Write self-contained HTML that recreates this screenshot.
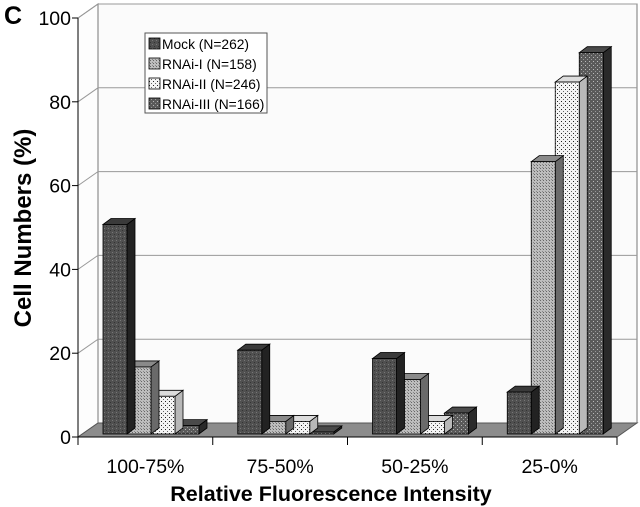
<!DOCTYPE html>
<html><head><meta charset="utf-8"><style>
body{margin:0;background:#fff;}
svg{display:block;font-family:"Liberation Sans",Arial,sans-serif;}
</style></head><body>
<svg id="chart" width="640" height="507" viewBox="0 0 640 507">
<defs>
<pattern id="pMock" width="4" height="4" patternUnits="userSpaceOnUse"><rect width="4" height="4" fill="#505050"/><rect x="0" y="0" width="1" height="1" fill="#777"/><rect x="2" y="2" width="1" height="1" fill="#333"/></pattern>
<pattern id="pR1" width="3" height="3" patternUnits="userSpaceOnUse"><rect width="3" height="3" fill="#bdbdbd"/><rect width="1" height="1" fill="#666"/><rect x="2" y="2" width="1" height="1" fill="#888"/></pattern>
<pattern id="pR2" width="4" height="4" patternUnits="userSpaceOnUse"><rect width="4" height="4" fill="#f4f4f4"/><rect x="1" y="1" width="1" height="1" fill="#222"/><rect x="3" y="3" width="1" height="1" fill="#666"/></pattern>
<pattern id="pR3" width="4" height="4" patternUnits="userSpaceOnUse"><rect width="4" height="4" fill="#5a5a5a"/><rect x="1" y="1" width="1" height="1" fill="#bbb"/><rect x="3" y="3" width="1" height="1" fill="#999"/></pattern>
</defs>
<g id="axes"></g>
<g id="bars"></g>
<g id="legend"></g>
<text x="4" y="24" font-size="25" font-weight="bold">C</text>
<text transform="translate(31,228) rotate(-90)" text-anchor="middle" font-size="24" font-weight="bold">Cell Numbers (%)</text>
<text x="331" y="501" text-anchor="middle" font-size="21.5" font-weight="bold">Relative Fluorescence Intensity</text>
</svg>
<script>
const categories=["100-75%","75-50%","50-25%","25-0%"];
const seriesNames=["Mock (N=262)","RNAi-I (N=158)","RNAi-II (N=246)","RNAi-III (N=166)"];
const mockVals=[50,20,18,10];
const rnai1Vals=[16,3,13,65];
const rnai2Vals=[9,3,3,84];
const rnai3Vals=[2,0.5,5,91];
const yTicks=[0,20,40,60,80,100];

const NS="http://www.w3.org/2000/svg";
const X0=78,X1=617,Y0=437,Y100=18,DX=20,DY=-14;
const fills=["url(#pMock)","url(#pR1)","url(#pR2)","url(#pR3)"];
const sides=["#222","#6a6a6a","#b8b8b8","#2a2a2a"];
const tops=["#3a3a3a","#8a8a8a","#dcdcdc","#4a4a4a"];
const series=[mockVals,rnai1Vals,rnai2Vals,rnai3Vals];
function y(v){return Y0-(Y0-Y100)*v/100;}
function mk(tag,attrs,parent){const e=document.createElementNS(NS,tag);for(const k in attrs)e.setAttribute(k,attrs[k]);parent.appendChild(e);return e;}
const ax=document.getElementById('axes');
mk('rect',{x:X0+DX,y:Y100+DY,width:X1-X0,height:Y0-Y100,fill:"#fbfbfb",stroke:"#777","stroke-width":1},ax);
mk('polygon',{points:`${X0},${Y100} ${X0+DX},${Y100+DY} ${X0+DX},${Y0+DY} ${X0},${Y0}`,fill:"#fdfdfd",stroke:"#777"},ax);
const fl=mk('polygon',{points:`${X0},${Y0} ${X1},${Y0} ${X1+DX},${Y0+DY} ${X0+DX},${Y0+DY}`,fill:"#8c8c8c",stroke:"#555"},ax);

yTicks.forEach(t=>{
  if(t>0){const g=mk('path',{d:`M${X0},${y(t)} L${X0+DX},${y(t)+DY} L${X1+DX},${y(t)+DY}`,fill:"none",stroke:"#999","stroke-width":1},ax);
  }
  mk('line',{x1:X0-6,x2:X0,y1:y(t),y2:y(t),stroke:"#000"},ax);
  const tx=mk('text',{x:X0-7,y:y(t)+7,"text-anchor":"end","font-size":19.5},ax);tx.textContent=t;
  
});
mk('line',{x1:X0,x2:X0,y1:Y100,y2:Y0,stroke:"#000"},ax);
mk('line',{x1:X0,x2:X1,y1:Y0,y2:Y0,stroke:"#000"},ax);
const cw=(X1-X0)/categories.length;
categories.forEach((c,i)=>{
  mk('line',{x1:X0+cw*(i+1),x2:X0+cw*(i+1),y1:Y0,y2:Y0+8,stroke:"#000"},ax);
  if(i==0)mk('line',{x1:X0,x2:X0,y1:Y0,y2:Y0+8,stroke:"#000"},ax);
  const t=mk('text',{x:X0+cw*(i+0.5),y:473,"text-anchor":"middle","font-size":19.5},ax);t.textContent=c;
  
});
const bg=document.getElementById('bars');
const bw=24,bdx=8,bdy=-6,base=434;
categories.forEach((c,i)=>{
  for(let s=series.length-1;s>=0;s--){
    const v=series[s][i];const x=X0+cw*i+25+s*bw;const top=base-(Y0-Y100)*v/100;
    const g=mk('g',{},bg);
    
    
    mk('polygon',{points:`${x+bw},${top} ${x+bw+bdx},${top+bdy} ${x+bw+bdx},${base+bdy} ${x+bw},${base}`,fill:sides[s],stroke:"#000","stroke-width":0.8},g);
    mk('polygon',{points:`${x},${top} ${x+bdx},${top+bdy} ${x+bw+bdx},${top+bdy} ${x+bw},${top}`,fill:tops[s],stroke:"#000","stroke-width":0.8},g);
    mk('rect',{x:x,y:top,width:bw,height:base-top,fill:fills[s],stroke:"#000","stroke-width":0.8},g);
  }
});
const lg=document.getElementById('legend');
mk('rect',{x:145,y:33,width:122,height:80,fill:"#fff",stroke:"#555"},lg);
seriesNames.forEach((n,s)=>{
  const yy=44+s*20;
  const sw=mk('rect',{x:149,y:yy-6,width:11,height:11,fill:fills[s],stroke:"#000","stroke-width":0.8},lg);
  
  const t=mk('text',{x:162,y:yy+5,"font-size":13.8},lg);t.textContent=n;
  
});
</script>
</body></html>
